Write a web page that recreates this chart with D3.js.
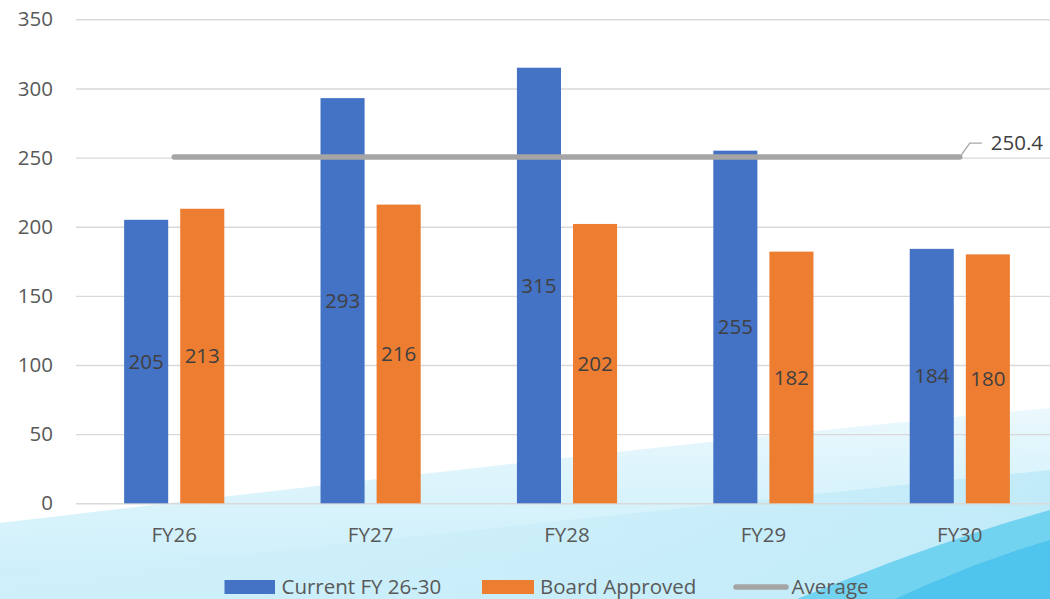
<!DOCTYPE html>
<html>
<head>
<meta charset="utf-8">
<script src="https://cdn.jsdelivr.net/npm/d3@7"></script>
<style>
  html, body { margin: 0; padding: 0; background: #ffffff; }
  svg { display: block; font-family: "Open Sans", sans-serif; }
</style>
</head>
<body>
<svg id="chart" width="1050" height="599"></svg>
<script>
const categories = ["FY26", "FY27", "FY28", "FY29", "FY30"];
const seriesNames = ["Current FY 26-30", "Board Approved"];
const currentValues = [205, 293, 315, 255, 184];
const boardValues = [213, 216, 202, 182, 180];
const averageValue = 250.4;
const yTicks = [0, 50, 100, 150, 200, 250, 300, 350];
const colors = ["#4472C4", "#ED7D31"];
const avgColor = "#A5A5A5";

const svg = d3.select("#chart");

// ---- background swoosh ----
const defs = svg.append("defs");
const g1 = defs.append("linearGradient").attr("id", "bgLight")
  .attr("x1", "0").attr("y1", "0").attr("x2", "0.15").attr("y2", "1");
g1.append("stop").attr("offset", "0").attr("stop-color", "#f4fbfe");
g1.append("stop").attr("offset", "0.35").attr("stop-color", "#e0f5fc");
g1.append("stop").attr("offset", "1").attr("stop-color", "#c8eefa");
const g2 = defs.append("linearGradient").attr("id", "bgMid")
  .attr("x1", "0").attr("y1", "0").attr("x2", "1").attr("y2", "0");
g2.append("stop").attr("offset", "0").attr("stop-color", "#d3f1fb").attr("stop-opacity", 0.5);
g2.append("stop").attr("offset", "1").attr("stop-color", "#bfeaf8").attr("stop-opacity", 0.9);

const bg = svg.append("g").attr("class", "background");
bg.append("path")
  .attr("d", "M0,523 C300,488 700,440 1050,408 L1050,599 L0,599 Z")
  .attr("fill", "url(#bgLight)");
bg.append("path")
  .attr("d", "M0,578 C350,545 700,505 1050,470 L1050,599 L0,599 Z")
  .attr("fill", "url(#bgMid)");
bg.append("path")
  .attr("d", "M797,599 C870,570 950,538 1050,510 L1050,599 Z")
  .attr("fill", "#72d3f1");
bg.append("path")
  .attr("d", "M895,599 C945,576 995,556 1050,540 L1050,599 Z")
  .attr("fill", "#4fc4ec");

// ---- scales ----
const y = d3.scaleLinear().domain([0, 350]).range([503.3, 19.3]);
const x0 = d3.scaleBand().domain(categories).range([76, 1058])
  .paddingInner(0.49).paddingOuter(0.245);
const x1 = d3.scaleBand().domain(seriesNames).range([0, x0.bandwidth()])
  .paddingInner(0.2143).paddingOuter(0);

// ---- y axis with gridlines ----
const yAxis = svg.append("g").attr("transform", "translate(76,0)")
  .call(d3.axisLeft(y).tickValues(yTicks).tickSize(-(1058 - 76)).tickPadding(23));
yAxis.select(".domain").remove();
yAxis.selectAll(".tick line").attr("stroke", "#d9d9d9").attr("stroke-width", 1.4);
yAxis.selectAll(".tick text").attr("fill", "#595959")
  .style("font-size", "20.5px").style("font-family", "'Open Sans', sans-serif");

// ---- x axis ----
const xAxis = svg.append("g").attr("transform", "translate(0,503.3)")
  .call(d3.axisBottom(x0).tickSize(0).tickPadding(24));
xAxis.select(".domain").remove();
xAxis.selectAll(".tick text").attr("fill", "#595959")
  .style("font-size", "20.5px").style("font-family", "'Open Sans', sans-serif");

// ---- bars ----
const rows = categories.map((c, i) => ({
  cat: c,
  vals: [
    { key: seriesNames[0], v: currentValues[i], color: colors[0] },
    { key: seriesNames[1], v: boardValues[i], color: colors[1] }
  ]
}));

const groups = svg.append("g").selectAll("g").data(rows).join("g")
  .attr("transform", d => `translate(${x0(d.cat)},0)`);

groups.selectAll("rect").data(d => d.vals).join("rect")
  .attr("x", d => x1(d.key))
  .attr("width", x1.bandwidth())
  .attr("y", d => y(d.v))
  .attr("height", d => y(0) - y(d.v))
  .attr("fill", d => d.color);

groups.selectAll("text.lbl").data(d => d.vals).join("text")
  .attr("class", "lbl")
  .attr("x", d => x1(d.key) + x1.bandwidth() / 2)
  .attr("y", d => (y(0) + y(d.v)) / 2)
  .attr("dy", "0.36em")
  .attr("text-anchor", "middle")
  .attr("fill", "#404040")
  .style("font-size", "20.5px")
  .text(d => d.v);

// ---- average line ----
const avgX1 = x0(categories[0]) + x0.bandwidth() / 2;
const avgX2 = x0(categories[categories.length - 1]) + x0.bandwidth() / 2;
const avgY = y(averageValue);
svg.append("line")
  .attr("x1", avgX1).attr("x2", avgX2)
  .attr("y1", avgY).attr("y2", avgY)
  .attr("stroke", avgColor).attr("stroke-width", 5.5)
  .attr("stroke-linecap", "round");

// leader + label
svg.append("path")
  .attr("d", `M${avgX2},${avgY} L${avgX2 + 10},${avgY - 14} L${avgX2 + 22},${avgY - 14}`)
  .attr("fill", "none").attr("stroke", "#a6a6a6").attr("stroke-width", 1.3);
svg.append("text")
  .attr("x", avgX2 + 31).attr("y", avgY - 14)
  .attr("dy", "0.36em")
  .attr("fill", "#404040")
  .style("font-size", "20.5px")
  .text(averageValue.toFixed(1));

// ---- legend ----
const legend = svg.append("g");
const legY = 586.5;
legend.append("rect").attr("x", 224.5).attr("y", 580).attr("width", 50.5).attr("height", 14)
  .attr("fill", colors[0]);
legend.append("text").attr("x", 281.5).attr("y", legY).attr("dy", "0.36em")
  .attr("fill", "#595959").style("font-size", "20.5px").text(seriesNames[0]);
legend.append("rect").attr("x", 482).attr("y", 580).attr("width", 52).attr("height", 14)
  .attr("fill", colors[1]);
legend.append("text").attr("x", 540).attr("y", legY).attr("dy", "0.36em")
  .attr("fill", "#595959").style("font-size", "20.5px").text(seriesNames[1]);
legend.append("line").attr("x1", 736).attr("x2", 786).attr("y1", legY + 0.5).attr("y2", legY + 0.5)
  .attr("stroke", avgColor).attr("stroke-width", 5.5).attr("stroke-linecap", "round");
legend.append("text").attr("x", 791.5).attr("y", legY).attr("dy", "0.36em")
  .attr("fill", "#595959").style("font-size", "20.5px").text("Average");
</script>
</body>
</html>
